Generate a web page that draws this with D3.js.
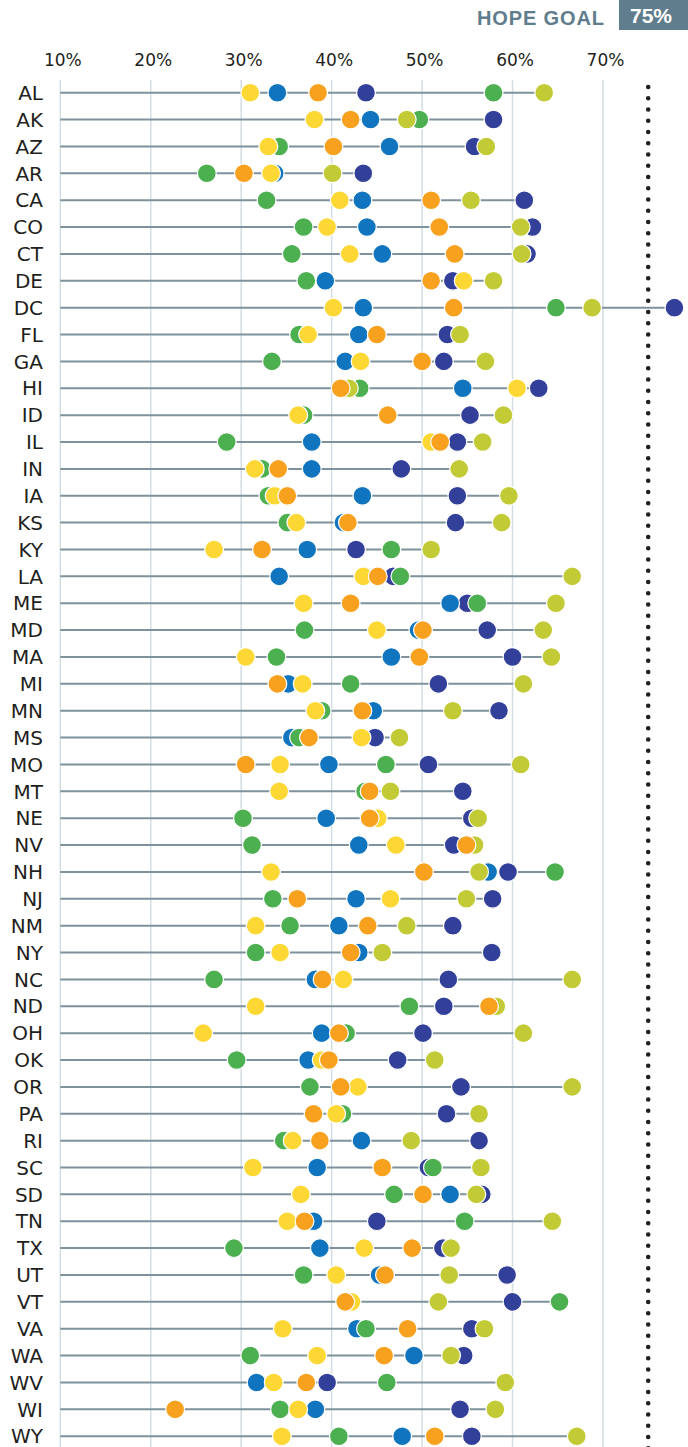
<!DOCTYPE html>
<html>
<head>
<meta charset="utf-8">
<script src="https://d3js.org/d3.v7.min.js"></script>
<style>
  body { margin: 0; background: #fff; }
  text { font-family: "DejaVu Sans", sans-serif; fill: #231f20; }
</style>
</head>
<body>
<script type="text/javascript">

  var states = ["AL","AK","AZ","AR","CA","CO","CT","DE","DC","FL","GA","HI","ID","IL","IN","IA","KS","KY","LA","ME",
                "MD","MA","MI","MN","MS","MO","MT","NE","NV","NH","NJ","NM","NY","NC","ND","OH","OK","OR","PA","RI",
                "SC","SD","TN","TX","UT","VT","VA","WA","WV","WI","WY"];

  var ticks = [10, 20, 30, 40, 50, 60, 70];
  var goal = 75;

  // one array per series, in state order (null = not shown)
  var navyVals = [43.8,57.9,55.8,43.5,61.3,62.2,61.6,53.4,77.9,52.8,52.4,62.9,55.3,53.9,47.7,53.9,53.7,42.7,46.8,55.0,
                  57.2,60.0,51.8,58.5,44.8,50.7,54.5,55.5,53.5,59.5,57.8,53.4,57.7,52.9,52.4,50.1,47.3,54.3,52.7,56.3,
                  50.7,56.6,45.0,52.3,59.4,60.0,55.5,54.6,39.5,54.2,55.5];
  var blueVals = [34.0,44.3,46.4,33.7,43.4,43.9,45.6,39.3,43.5,43.0,41.5,54.5,null,37.8,37.8,43.4,41.3,37.3,34.2,53.1,
                  49.6,46.6,35.2,44.6,35.6,39.7,null,39.4,43.0,57.3,42.7,40.8,43.0,38.2,null,38.9,37.4,null,null,43.3,
                  38.4,53.1,38.0,38.7,45.3,null,42.8,49.1,31.7,38.2,47.8];
  var greenVals = [57.9,49.7,34.2,26.2,32.8,36.9,35.6,37.2,64.8,36.4,33.4,43.1,36.9,28.4,32.3,33.0,35.1,46.6,47.6,56.1,
                   37.0,33.9,42.1,38.9,36.4,46.0,43.7,30.2,31.2,64.7,33.5,35.4,31.6,27.0,48.6,41.6,29.5,37.6,41.2,34.7,
                   51.2,46.9,54.7,29.2,36.9,65.2,43.8,31.0,46.1,34.3,40.8];
  var limeVals = [63.5,48.3,57.1,40.1,55.4,60.9,61.0,57.9,68.8,54.2,57.0,41.9,59.0,56.7,54.1,59.6,58.8,51.0,66.6,64.8,
                  63.4,64.3,61.2,53.4,47.5,60.9,46.5,56.2,55.8,56.3,54.9,48.3,45.6,66.6,58.2,61.2,51.4,66.6,56.3,48.8,
                  56.5,56.0,64.4,53.2,53.0,51.8,56.9,53.2,59.2,58.1,67.1];
  var yellowVals = [31.0,38.1,33.0,33.3,40.9,39.5,42.0,54.6,40.2,37.4,43.2,60.5,36.3,51.0,31.5,33.7,36.1,27.0,43.5,36.9,
                    45.0,30.5,36.8,38.2,43.3,34.3,34.2,45.1,47.1,33.3,46.5,31.6,34.3,41.3,31.6,25.8,38.9,42.9,40.5,35.7,
                    31.3,36.6,35.1,43.6,40.5,42.2,34.6,38.4,33.6,36.3,34.5];
  var orangeVals = [38.5,42.1,40.2,30.3,51.0,51.9,53.6,51.0,53.5,45.0,50.0,41.0,46.2,52.0,34.1,35.1,41.8,32.3,45.1,42.1,
                    50.1,49.7,34.0,43.4,37.5,30.5,44.2,44.2,54.9,50.2,36.2,44.0,42.1,39.0,57.4,40.8,39.7,41.0,38.0,38.7,
                    45.6,50.1,37.0,48.9,45.9,41.5,48.4,45.8,37.2,22.7,51.4];

  // drawing order, bottom to top
  var series = [
    {key: "navy",   color: "#33409a", values: navyVals},
    {key: "blue",   color: "#1075be", values: blueVals},
    {key: "green",  color: "#4caf50", values: greenVals},
    {key: "lime",   color: "#c2cb35", values: limeVals},
    {key: "yellow", color: "#fdd835", values: yellowVals},
    {key: "orange", color: "#f7a11f", values: orangeVals}
  ];

  var w = 688, h = 1447;

  var svg = d3.select("body").append("svg")
      .attr("width", w)
      .attr("height", h);

  var x = d3.scaleLinear().domain([10, 75]).range([60.3, 648.2]);
  var y = d3.scalePoint().domain(states).range([92.7, 1436.2]);

  // header
  var slate = "#5f7d8c";
  svg.append("rect")
      .attr("x", 619).attr("y", 0)
      .attr("width", 69).attr("height", 30)
      .attr("fill", slate);
  svg.append("text")
      .attr("x", 651).attr("y", 22.5)
      .attr("text-anchor", "middle")
      .style("font-family", "Liberation Sans, sans-serif")
      .style("font-weight", "bold")
      .style("font-size", "21px")
      .style("fill", "#fff")
      .text(goal + "%");
  svg.append("text")
      .attr("x", 477).attr("y", 25)
      .attr("textLength", 127)
      .attr("lengthAdjust", "spacing")
      .style("font-family", "Liberation Sans, sans-serif")
      .style("font-weight", "bold")
      .style("font-size", "20px")
      .style("fill", slate)
      .text("HOPE GOAL");

  // vertical grid
  svg.append("g").selectAll("line")
      .data(ticks)
      .enter().append("line")
      .attr("x1", function(d) { return x(d); })
      .attr("x2", function(d) { return x(d); })
      .attr("y1", 80).attr("y2", h)
      .attr("stroke", "#d3dde2")
      .attr("stroke-width", 1.5);

  // tick labels
  var axis = svg.append("g")
      .attr("transform", "translate(2,72)")
      .call(d3.axisTop(x).tickValues(ticks).tickSize(0).tickPadding(6)
             .tickFormat(function(d) { return d + "%"; }));
  axis.select(".domain").remove();
  axis.selectAll("text")
      .style("font-family", "DejaVu Sans, sans-serif")
      .style("font-size", "17px")
      .attr("fill", "#231f20");

  // goal line
  svg.append("line")
      .attr("x1", x(goal)).attr("x2", x(goal))
      .attr("y1", 87).attr("y2", h + 5)
      .attr("stroke", "#231f20")
      .attr("stroke-width", 4.6)
      .attr("stroke-linecap", "round")
      .attr("stroke-dasharray", "0 11.25");

  // rows
  var rows = svg.append("g").selectAll("g")
      .data(states)
      .enter().append("g")
      .attr("transform", function(d) { return "translate(0," + y(d) + ")"; });

  rows.append("text")
      .attr("x", 43)
      .attr("dy", "0.36em")
      .attr("text-anchor", "end")
      .style("font-size", "20px")
      .text(function(d) { return d; });

  rows.append("line")
      .attr("x1", x(10))
      .attr("x2", function(d, i) {
        return x(d3.max(series, function(s) { return s.values[i]; }));
      })
      .attr("stroke", "#7d929c")
      .attr("stroke-width", 2);

  series.forEach(function(s) {
    rows.filter(function(d, i) { return s.values[i] != null; })
      .append("circle")
      .attr("cx", function(d) { return x(s.values[states.indexOf(d)]); })
      .attr("r", 9.4)
      .attr("fill", s.color)
      .attr("stroke", "#fff")
      .attr("stroke-width", 1.2);
  });

</script>
</body>
</html>
